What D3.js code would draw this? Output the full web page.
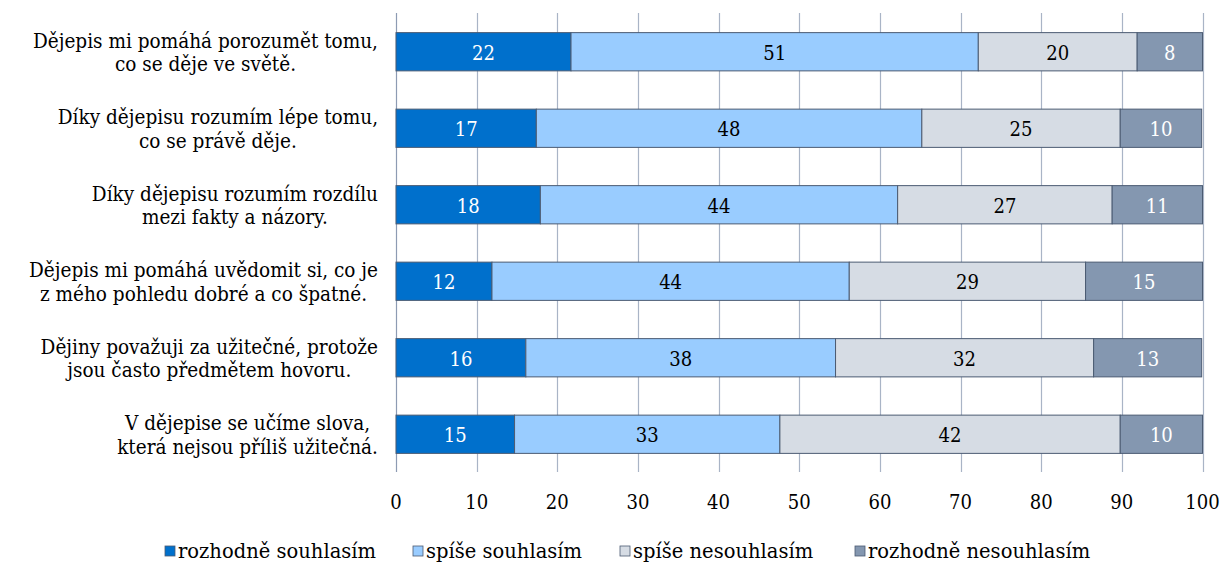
<!DOCTYPE html>
<html><head><meta charset="utf-8">
<script src="https://cdn.jsdelivr.net/npm/d3@7"></script>
<style>body{margin:0;background:#fff}svg{display:block}
text{font-family:"DejaVu Serif",serif}</style>
</head><body><svg id="c" width="1220" height="562"></svg>
<script>
const categories = [
  ["Dějepis mi pomáhá porozumět tomu,", "co se děje ve světě."],
  ["Díky dějepisu rozumím lépe tomu,", "co se právě děje."],
  ["Díky dějepisu rozumím rozdílu", "mezi fakty a názory."],
  ["Dějepis mi pomáhá uvědomit si, co je", "z mého pohledu dobré a co špatné."],
  ["Dějiny považuji za užitečné, protože", "jsou často předmětem hovoru."],
  ["V dějepise se učíme slova,", "která nejsou příliš užitečná."]
];
const seriesNames = ["rozhodně souhlasím", "spíše souhlasím", "spíše nesouhlasím", "rozhodně nesouhlasím"];
const rozhodneSouhlasim   = [21.7, 17.4, 17.9, 11.9, 16.1, 14.7];
const spiseSouhlasim      = [50.5, 47.8, 44.3, 44.3, 38.4, 32.9];
const spiseNesouhlasim    = [19.7, 24.6, 26.6, 29.3, 32.0, 42.2];
const rozhodneNesouhlasim = [8.1, 10.1, 11.2, 14.5, 13.4, 10.2];
const xTicks = [0, 10, 20, 30, 40, 50, 60, 70, 80, 90, 100];

const colors = ["#0070CC", "#99CCFF", "#D6DCE4", "#8497B0"];
const textColors = ["#ffffff", "#000000", "#000000", "#ffffff"];

const series = [rozhodneSouhlasim, spiseSouhlasim, spiseNesouhlasim, rozhodneNesouhlasim];
const rows = categories.map((c, i) => {
  const o = {key: i};
  seriesNames.forEach((s, j) => o[s] = series[j][i]);
  return o;
});
const stacked = d3.stack().keys(seriesNames)(rows);

const svg = d3.select("#c");
const x = d3.scaleLinear().domain([0, 100]).range([396, 1202.5]);
const y = d3.scaleBand().domain(d3.range(categories.length)).range([13.5, 472.5]).paddingInner(0.5).paddingOuter(0.25);

const FS = 21, SX_NUM = 0.86, SX_CAT = 0.88, SX_LEG = 0.93;
function addText(parent, px, py, str, sx, anchor, fill) {
  return parent.append("text")
    .attr("transform", `translate(${px},${py}) scale(${sx},1)`)
    .attr("text-anchor", anchor).attr("font-size", FS).attr("fill", fill)
    .text(str);
}

// gridlines
svg.append("g").selectAll("line").data(xTicks).join("line")
  .attr("x1", d => Math.round(x(d)) + 0.5).attr("x2", d => Math.round(x(d)) + 0.5)
  .attr("y1", 13).attr("y2", 472)
  .attr("stroke", d => d === 0 ? "#8d9bb3" : "#a9b4c6").attr("stroke-width", 1.2);

// tick labels
const tg = svg.append("g");
xTicks.forEach(t => addText(tg, x(t), 509, t, SX_NUM, "middle", "#000"));

// bars
const layers = svg.append("g").selectAll("g").data(stacked).join("g")
  .attr("fill", (d, i) => colors[i]);
layers.selectAll("rect").data(d => d).join("rect")
  .attr("x", d => x(d[0])).attr("width", d => x(d[1]) - x(d[0]))
  .attr("y", (d, i) => y(i)).attr("height", y.bandwidth())
  .attr("stroke", "#4b5b72").attr("stroke-width", 1);

// value labels
const lab = svg.append("g");
stacked.forEach((layer, j) => {
  layer.forEach((d, i) => {
    addText(lab, (x(d[0]) + x(d[1])) / 2, y(i) + y.bandwidth() / 2 + 8,
      Math.round(d[1] - d[0]), SX_NUM, "middle", textColors[j]);
  });
});

// category labels
const cg = svg.append("g");
categories.forEach((lines, i) => {
  const g = cg.append("g");
  const cy = y(i) + y.bandwidth() / 2;
  const ts = lines.map((s, k) => addText(g, 0, cy + (k === 0 ? -4 : 19.5), s, SX_CAT, "middle", "#000"));
  const maxW = d3.max(ts, t => t.node().getComputedTextLength() * SX_CAT);
  ts.forEach((t, k) => t.attr("transform", `translate(${378 - maxW / 2},${cy + (k === 0 ? -4 : 19.5)}) scale(${SX_CAT},1)`));
});

// legend
const legX = [165, 413, 620, 855];
const lg = svg.append("g");
seriesNames.forEach((s, i) => {
  lg.append("rect").attr("x", legX[i]).attr("y", 546).attr("width", 10).attr("height", 10)
    .attr("fill", colors[i]).attr("stroke", "#4b5b72").attr("stroke-width", 0.8);
  addText(lg, legX[i] + 13, 558, s, SX_LEG, "start", "#000");
});
</script></body></html>
